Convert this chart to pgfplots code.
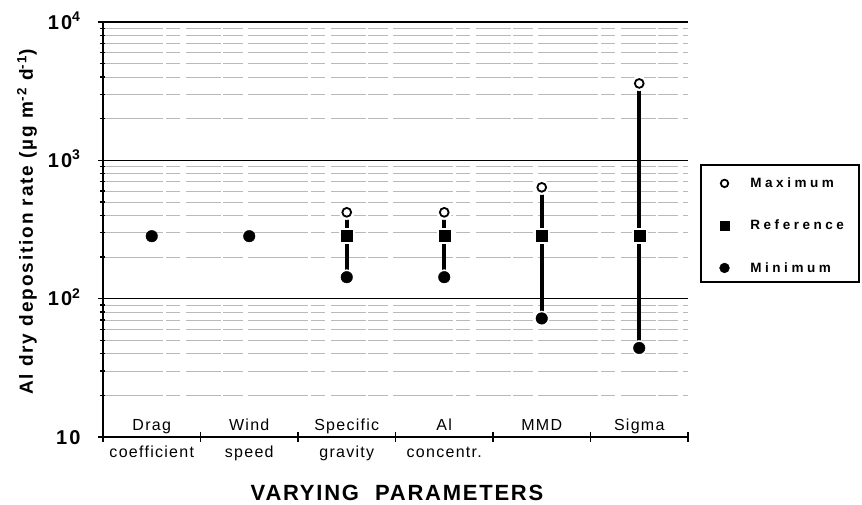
\documentclass[border=0pt]{standalone}
\usepackage{fontspec}
\setmainfont{Liberation Sans}
\newfontfamily\catfont[LetterSpace=8]{Liberation Sans}
\newfontfamily\legfont[LetterSpace=26]{Liberation Sans}
\newfontfamily\titfont[LetterSpace=8]{Liberation Sans}
\newfontfamily\labfont[LetterSpace=10]{Liberation Sans}
\newfontfamily\tickfont[LetterSpace=10]{Liberation Sans}
\usepackage{pgfplots}
\pgfplotsset{compat=1.18}
\usetikzlibrary{calc}
\tikzset{cat/.style={anchor=base, font=\catfont\fontsize{16}{16}\selectfont}}
\begin{document}
\begin{tikzpicture}
\begin{axis}[
  width=585pt, height=415pt, scale only axis,
  xmin=0, xmax=6, ymin=10, ymax=10000, ymode=log,
  axis lines*=left,
  axis line style={line width=1.5pt},
  clip=false,
  xtick={0,1,2,3,4,5,6}, xticklabels={},
  ytick={10,100,1000,10000},
  yticklabels={10,10\textsuperscript{2},10\textsuperscript{3},10\textsuperscript{4}},
  yticklabel style={font=\tickfont\bfseries\fontsize{20}{20}\selectfont, anchor=base east, yshift=-7pt, xshift=-14pt},
  ymajorgrids, yminorgrids,
  major grid style={black, line width=1.4pt},
  minor grid style={gray!55, line width=0.6pt, dash pattern=on 60pt off 3pt on 14pt off 6pt on 35pt off 2pt on 20pt off 5pt},
  tick style={black, line width=1.2pt},
  major tick length=10pt, minor tick length=5pt,
  tick align=center,
  ylabel={Al dry deposition rate (µg m\textsuperscript{-2} d\textsuperscript{-1})},
  ylabel style={font=\labfont\bfseries\fontsize{19}{19}\selectfont, at={(rel axis cs:0,0.518)}, anchor=center, yshift=76pt},
  legend style={at={(rel axis cs:1.0537,0.630)}, anchor=north west, draw=none, fill=none,
    font=\legfont\bfseries\fontsize{13.5}{13.5}\selectfont, row sep=27pt, inner xsep=0pt, inner ysep=0pt,
    /tikz/every odd column/.append style={column sep=19pt}},
  legend cell align=left,
  legend image post style={scale=0.85},
]
% range lines
\addplot[line width=4pt, forget plot] coordinates {(2.5,421) (2.5,143)};
\addplot[line width=4pt, forget plot] coordinates {(3.5,421) (3.5,143)};
\addplot[line width=4pt, forget plot] coordinates {(4.5,638) (4.5,72)};
\addplot[line width=4pt, forget plot] coordinates {(5.5,3597) (5.5,44)};
% white halos
\addplot[only marks, mark=*, mark size=7.5pt, white, forget plot] coordinates {(2.5,421) (3.5,421) (4.5,638) (5.5,3597) (2.5,143) (3.5,143) (4.5,72) (5.5,44)};
\addplot[only marks, mark=square*, mark size=7.5pt, white, forget plot] coordinates {(2.5,283) (3.5,283) (4.5,283) (5.5,283)};
% maximum
\addplot[only marks, mark=*, mark size=4.4pt, mark options={fill=white, draw=black, line width=1.8pt}] coordinates {(2.5,421) (3.5,421) (4.5,638) (5.5,3597)};
\addlegendentry{Maximum}
% reference
\addplot[only marks, mark=square*, mark size=5.5pt, black] coordinates {(2.5,283) (3.5,283) (4.5,283) (5.5,283)};
\addlegendentry{Reference}
% minimum
\addplot[only marks, mark=*, mark size=5.8pt, black] coordinates {(0.5,283) (1.5,283) (2.5,143) (3.5,143) (4.5,72) (5.5,44)};
\addlegendentry{Minimum}
% legend frame
\draw[line width=1.5pt] (rel axis cs:1.0222,0.6554) rectangle (rel axis cs:1.2923,0.3735);
% category labels
\node[cat] at ([yshift=7pt]axis cs:0.5,10) {Drag};
\node[cat] at ([yshift=-20pt]axis cs:0.5,10) {coefficient};
\node[cat] at ([yshift=7pt]axis cs:1.5,10) {Wind};
\node[cat] at ([yshift=-20pt]axis cs:1.5,10) {speed};
\node[cat] at ([yshift=7pt]axis cs:2.5,10) {Specific};
\node[cat] at ([yshift=-20pt]axis cs:2.5,10) {gravity};
\node[cat] at ([yshift=7pt]axis cs:3.5,10) {Al};
\node[cat] at ([yshift=-20pt]axis cs:3.5,10) {concentr.};
\node[cat] at ([yshift=7pt]axis cs:4.5,10) {MMD};
\node[cat] at ([yshift=7pt]axis cs:5.5,10) {Sigma};
\node[anchor=base, font=\titfont\bfseries\fontsize{22}{22}\selectfont] at ([yshift=-63pt]rel axis cs:0.5026,0) {VARYING\hspace{16pt}PARAMETERS};
\coordinate (ll) at (rel axis cs:0,0);
\end{axis}
\pgfresetboundingbox
\path[use as bounding box] ($(ll)+(-103pt,-67pt)$) rectangle ($(ll)+(759pt,437pt)$);
\end{tikzpicture}
\end{document}
